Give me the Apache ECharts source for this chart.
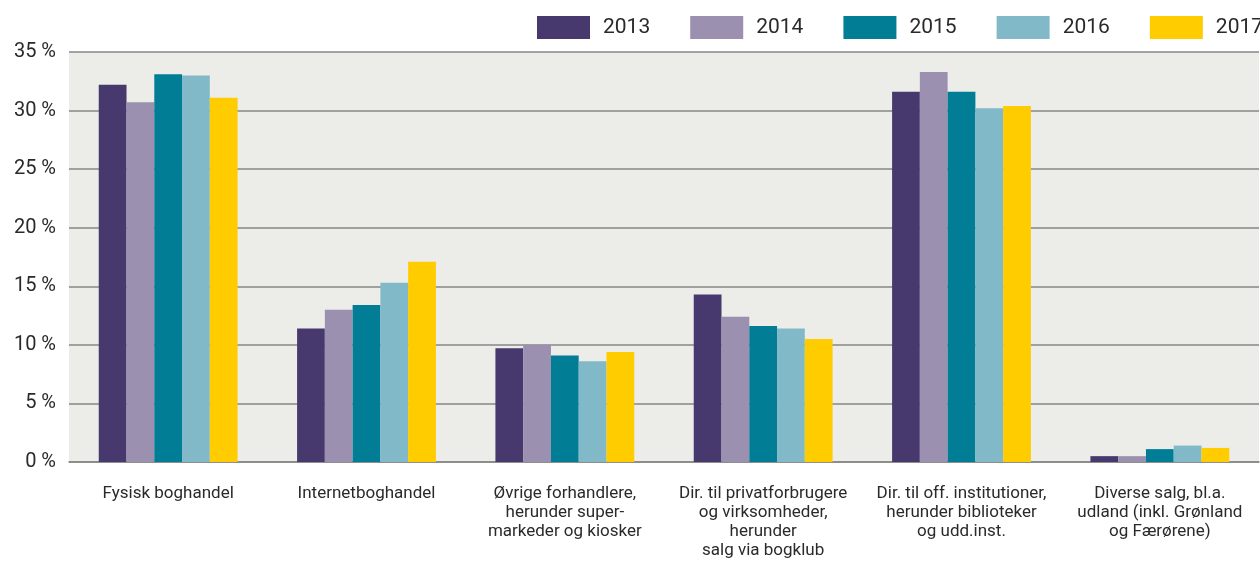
<!DOCTYPE html>
<html>
<head>
<meta charset="utf-8">
<script src="https://cdn.jsdelivr.net/npm/echarts@6/dist/echarts.min.js"></script>
<style>
  html, body { margin: 0; padding: 0; background: #ffffff; }
  #chart { width: 1260px; height: 562px; }
</style>
</head>
<body>
<div id="chart"></div>
<script>
var categories = [
  "Fysisk boghandel",
  "Internetboghandel",
  "Øvrige forhandlere,\nherunder super-\nmarkeder og kiosker",
  "Dir. til privatforbrugere\nog virksomheder,\nherunder\nsalg via bogklub",
  "Dir. til off. institutioner,\nherunder biblioteker\nog udd.inst.",
  "Diverse salg, bl.a.\nudland (inkl. Grønland\nog Færørene)"
];
var years = ["2013", "2014", "2015", "2016", "2017"];
var v2013 = [32.2, 11.4, 9.7, 14.3, 31.6, 0.5];
var v2014 = [30.7, 13.0, 10.0, 12.4, 33.3, 0.5];
var v2015 = [33.1, 13.4, 9.1, 11.6, 31.6, 1.1];
var v2016 = [33.0, 15.3, 8.6, 11.4, 30.2, 1.4];
var v2017 = [31.1, 17.1, 9.4, 10.5, 30.4, 1.2];
var colors = ["#47396d", "#9b90af", "#017e96", "#82b9c8", "#ffcc00"];

var font = "Roboto";
var chart = echarts.init(document.getElementById("chart"));
var allValues = [v2013, v2014, v2015, v2016, v2017];
var series = [];
for (var i = 0; i < years.length; i++) {
  series.push({
    name: years[i],
    type: "bar",
    data: allValues[i],
    barGap: "0%",
    barCategoryGap: "30%",
    itemStyle: { color: colors[i] }
  });
}

chart.setOption({
  animation: false,
  color: colors,
  textStyle: { fontFamily: font },
  legend: {
    data: years,
    left: 537,
    top: 16,
    width: 800,
    padding: 0,
    itemWidth: 53,
    itemHeight: 23,
    itemGap: 40,
    icon: "rect",
    textStyle: { fontSize: 21, color: "#2a2a2a", fontFamily: font, padding: [0, 0, 0, 8] }
  },
  grid: {
    left: 69,
    right: 1,
    top: 52,
    bottom: 100,
    show: true,
    backgroundColor: "#ecece8",
    borderWidth: 0
  },
  xAxis: {
    type: "category",
    data: categories,
    axisLine: { lineStyle: { color: "#878787", width: 1.5 } },
    axisTick: { alignWithLabel: true, length: 13, lineStyle: { color: "#878787", width: 1.5 } },
    axisLabel: {
      interval: 0,
      margin: 22,
      fontSize: 17,
      lineHeight: 19,
      color: "#2a2a2a",
      fontFamily: font,
      align: "center"
    }
  },
  yAxis: {
    type: "value",
    min: 0,
    max: 35,
    interval: 5,
    axisLine: { show: false },
    axisTick: { show: false },
    axisLabel: {
      formatter: "{value} %",
      margin: 13,
      fontSize: 20,
      color: "#2a2a2a",
      fontFamily: font
    },
    splitLine: { lineStyle: { color: "#878787", width: 1.5 } }
  },
  series: series
});
</script>
</body>
</html>
